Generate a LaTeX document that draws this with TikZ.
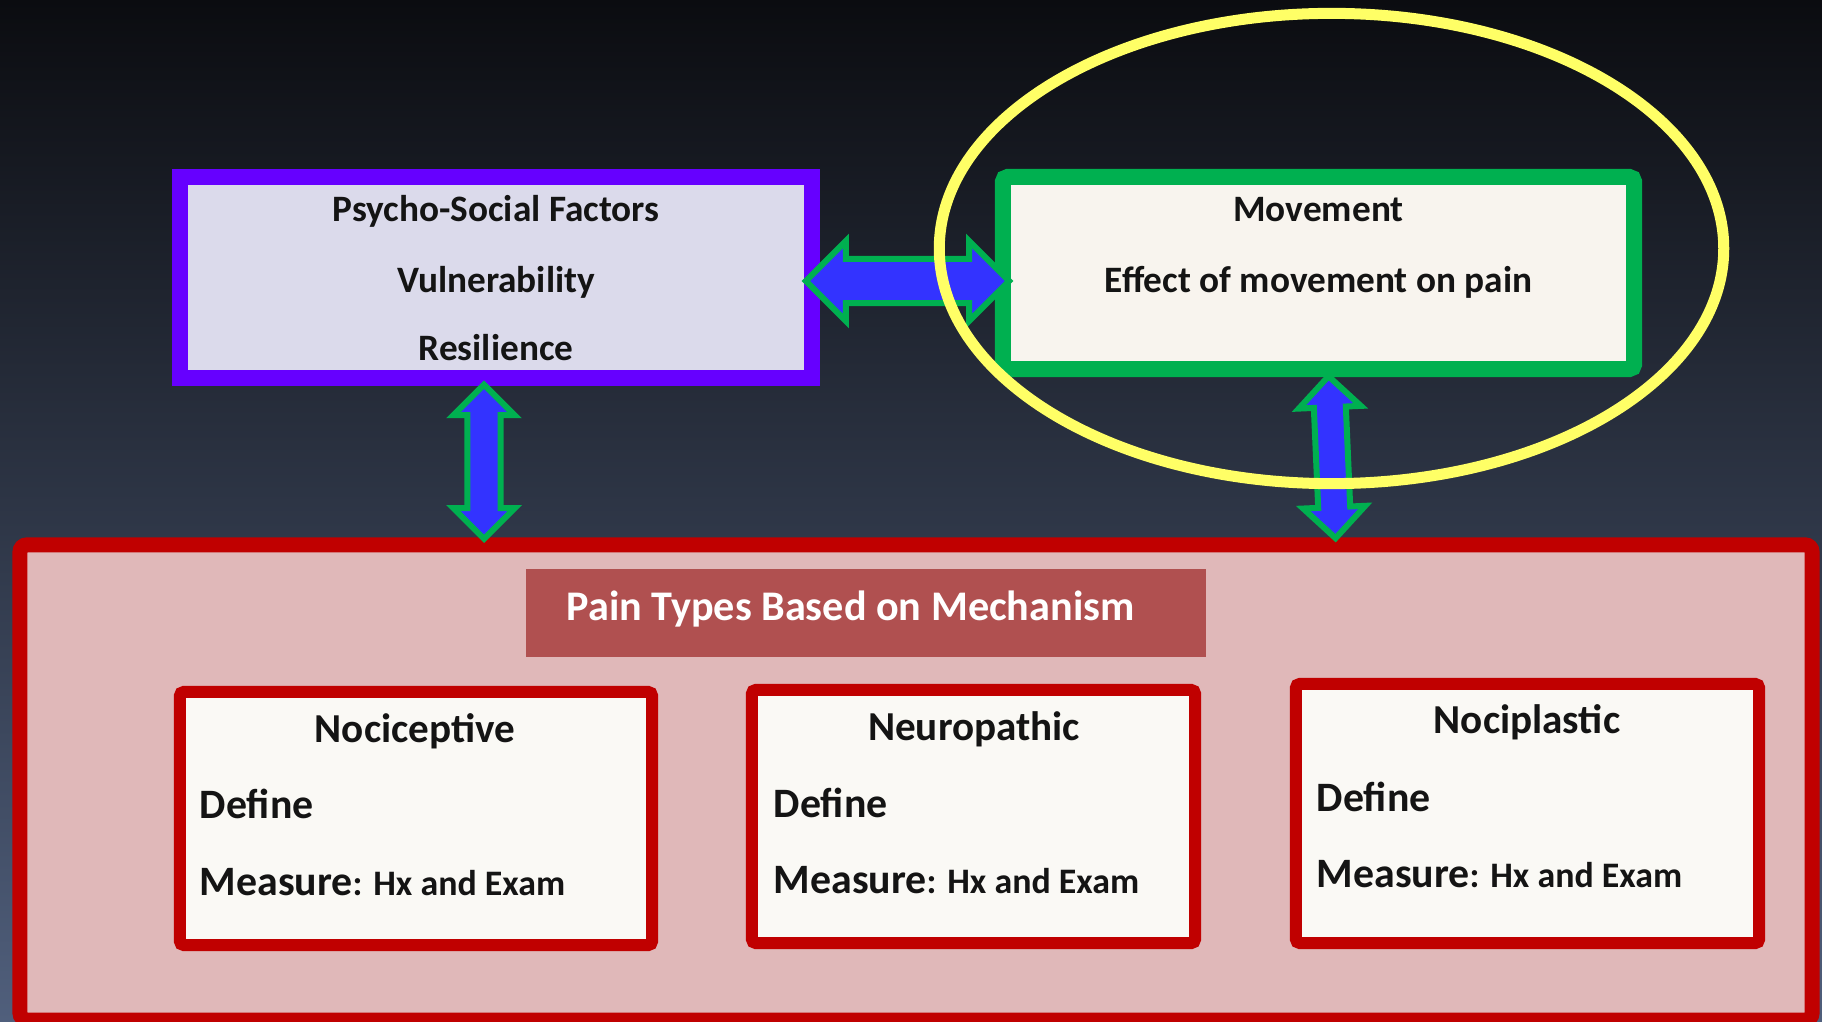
\documentclass[tikz,border=0pt]{standalone}
\usepackage{fontspec}
\setmainfont{Carlito}
\usepackage{xcolor}
\usepackage{tikz}
\usetikzlibrary{positioning}
\usetikzlibrary{shapes.geometric}
\usetikzlibrary{shapes.arrows}
\definecolor{bgtop}{RGB}{11,12,16}
\definecolor{bgmid}{RGB}{64,76,99}
\definecolor{bgbot}{RGB}{80,95,124}
\definecolor{psyline}{RGB}{102,0,255}
\definecolor{psyfill}{RGB}{219,218,235}
\definecolor{movline}{RGB}{0,176,80}
\definecolor{movfill}{RGB}{248,244,238}
\definecolor{ringyellow}{RGB}{255,255,102}
\definecolor{painred}{RGB}{192,0,0}
\definecolor{painfill}{RGB}{224,184,185}
\definecolor{titlefill}{RGB}{176,80,80}
\definecolor{typefill}{RGB}{250,249,245}
\definecolor{arrowblue}{RGB}{51,51,255}
\definecolor{ink}{RGB}{20,20,20}
\tikzset{
    psybox/.style = {rectangle, draw=psyline, fill=psyfill, line width=0.16cm, inner sep=0pt},
    movbox/.style = {rectangle, draw=movline, fill=movfill, line width=0.16cm, rounded corners=0.05cm, inner sep=0pt},
    painbox/.style = {rectangle, draw=painred, fill=painfill, line width=0.15cm, rounded corners=0.07cm, inner sep=0pt},
    typebox/.style = {rectangle, draw=painred, fill=typefill, line width=0.12cm, rounded corners=0.04cm, inner sep=0pt},
    ring/.style = {ellipse, draw=ringyellow, line width=0.11cm, inner sep=0pt},
    fatarrow/.style = {double arrow, draw=movline, fill=arrowblue, line width=0.06cm, inner xsep=0pt, double arrow tip angle=90},
}

\begin{document}
\begin{tikzpicture}[
	x=0.01cm,
	y=-0.01cm,
	font=\bfseries
]
\tikzset{
    toptext/.style = {text=ink, inner sep=0pt, anchor=base, font=\bfseries\fontsize{10.6}{12}\selectfont},
    titletext/.style = {text=white, inner sep=0pt, anchor=base, font=\bfseries\fontsize{12}{14}\selectfont},
    typetitle/.style = {text=ink, inner sep=0pt, anchor=base, font=\bfseries\fontsize{11.7}{14}\selectfont},
    typeline/.style = {text=ink, inner sep=0pt, anchor=base west, font=\bfseries\fontsize{11.9}{14}\selectfont},
}
\useasboundingbox (0,0) rectangle (1822,1022);
\shade[top color=bgtop, middle color=bgmid, bottom color=bgbot] (0,0) rectangle (1822,1022);
%
\node[painbox, minimum width=17.91cm, minimum height=4.75cm] (pain) at (916,782.5) {};
\node[rectangle, fill=titlefill, minimum width=6.80cm, minimum height=0.88cm] (title) at (866,613) {};
\node[titletext] (titlet) at (850.5,620) {Pain Types Based on Mechanism};
%
\node[typebox, minimum width=4.72cm, minimum height=2.53cm] (noci) at (416,818.5) {};
\node[typebox, minimum width=4.43cm, minimum height=2.53cm] (neuro) at (973.5,816.5) {};
\node[typebox, minimum width=4.63cm, minimum height=2.59cm] (nocip) at (1527.5,813.5) {};
%
\node[typetitle] (nocia) at (415,742) {Nociceptive};
\node[typeline] (nocib) at (199,818) {Define};
\node[typeline] (nocic) at (199,895) {Measure{\fontsize{10.2}{12}\selectfont: Hx and Exam}};
\node[typetitle] (neuroa) at (974,740) {Neuropathic};
\node[typeline] (neurob) at (773,817) {Define};
\node[typeline] (neuroc) at (773,893) {Measure{\fontsize{10.2}{12}\selectfont: Hx and Exam}};
\node[typetitle] (nocipa) at (1527,733) {Nociplastic};
\node[typeline] (nocipb) at (1316,811) {Define};
\node[typeline] (nocipc) at (1316,887) {Measure{\fontsize{10.2}{12}\selectfont: Hx and Exam}};
%
\node[psybox, minimum width=6.32cm, minimum height=2.01cm] (psy) at (496,277.5) {};
\node[toptext] (psya) at (496,222) {Psycho-Social Factors};
\node[toptext] (psyb) at (496,293) {Vulnerability};
\node[toptext] (psyc) at (496,361) {Resilience};
%
\node[movbox, minimum width=6.31cm, minimum height=1.92cm] (mov) at (1318.5,273) {};
\node[toptext] (mova) at (1318.5,222) {Movement};
\node[toptext] (movb) at (1318.5,293) {Effect of movement on pain};
%
\path ([yshift=-0.035cm]psy.east) -- ([yshift=-0.08cm]mov.west)
    node[fatarrow, midway, sloped, minimum height=2.03cm, inner ysep=0.19cm, double arrow head extend=0.18cm] (psymov) {};
\path ([xshift=-0.12cm]psy.south) -- ([xshift=-0.12cm]psy.south |- pain.north)
    node[fatarrow, midway, sloped, minimum height=1.54cm, inner ysep=0.135cm, double arrow head extend=0.14cm] (psypain) {};
\path ([xshift=0.1cm]mov.south) -- ([xshift=0.17cm]mov.south |- pain.north)
    node[fatarrow, midway, sloped, minimum height=1.62cm, inner ysep=0.13cm, double arrow head extend=0.15cm] (movpain) {};
%
\node[ring, minimum width=7.84cm, minimum height=4.70cm] (focus) at (1331.5,248.5) {};
\end{tikzpicture}
\end{document}
